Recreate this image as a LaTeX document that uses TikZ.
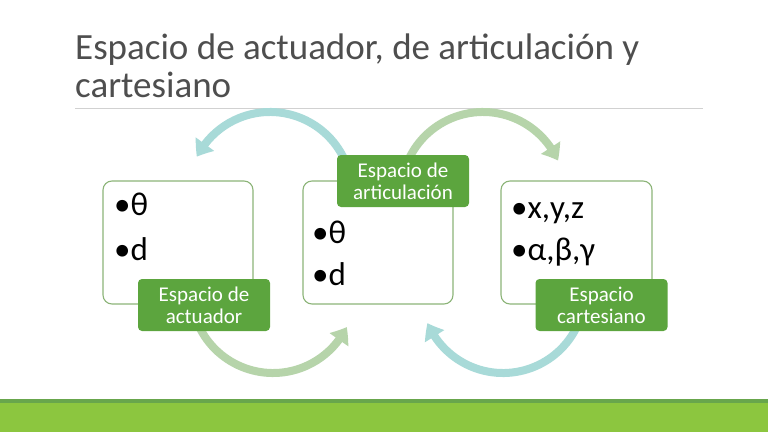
\documentclass[tikz,border=0pt]{standalone}
\usepackage{fontspec}
\setmainfont{Carlito}
\usetikzlibrary{arrows.meta,bending}
\definecolor{labgreen}{RGB}{92,165,62}
\definecolor{boxline}{RGB}{140,180,120}
\definecolor{arcteal}{RGB}{168,218,216}
\definecolor{arcgreen}{RGB}{182,212,170}
\definecolor{bandlight}{RGB}{140,198,63}
\definecolor{banddark}{RGB}{104,166,76}
\definecolor{titlegrey}{RGB}{78,78,78}
\tikzstyle{spacebox} = [rectangle, rounded corners=9pt, draw=boxline, line width=1.1pt, fill=white, minimum width=150pt, minimum height=123pt]
\tikzstyle{spacelabel} = [rectangle, rounded corners=4pt, fill=labgreen, text=white, minimum width=132pt, minimum height=52pt, align=center, inner sep=0, font=\fontsize{21}{22}\selectfont]
\tikzstyle{item} = [anchor=base west, inner sep=0, font=\fontsize{33}{34}\selectfont]
\tikzstyle{cycarrow} = [line width=8pt, -{Triangle[width=22pt,length=15pt,bend]}]
\begin{document}
\begin{tikzpicture}[x=1pt,y=1pt]
\useasboundingbox (0,0) rectangle (768,432);
% bottom band
\fill[bandlight] (0,0) rectangle (768,29);
\fill[banddark] (0,29) rectangle (768,33);
% title and rule
\node[anchor=north west, align=left, inner sep=0, text=titlegrey, font=\fontsize{37}{38}\selectfont] (title) at (75,398) {Espacio de actuador, de articulación y\\cartesiano};
\draw[black!18, line width=0.8pt] (75,324) -- (703,324);
% circular arrows
\coordinate (cA) at (270,238);
\coordinate (cB) at (483,238);
\coordinate (cC) at (273,141);
\coordinate (cD) at (503,141);
\draw[cycarrow, arcteal] (cA) ++(22:82) arc (22:153:82);
\draw[cycarrow, arcgreen] (cB) ++(158:82) arc (158:24:82);
\draw[cycarrow, arcgreen] (cC) ++(205:82) arc (205:334:82);
\draw[cycarrow, arcteal] (cD) ++(-22:82) arc (-22:-157:82);
% spaces
\node[spacebox] (act) at (178,189.5) {};
\node[spacebox] (art) at (378,189.5) {};
\node[spacebox, minimum width=151pt] (car) at (576.5,189.5) {};
\node[item] (actth) at (114,217) {•θ};
\node[item] (actd) at (114,172) {•d};
\node[item] (artth) at (312,189) {•θ};
\node[item] (artd) at (312,147) {•d};
\node[item] (carxyz) at (511,214) {•x,y,z};
\node[item] (carabg) at (511,172) {•α,β,γ};
% labels
\node[spacelabel] (actlab) at (204,127) {Espacio de\\actuador};
\node[spacelabel] (artlab) at (403,251) {Espacio de\\articulación};
\node[spacelabel] (carlab) at (601.5,127) {Espacio\\cartesiano};
\end{tikzpicture}
\end{document}
